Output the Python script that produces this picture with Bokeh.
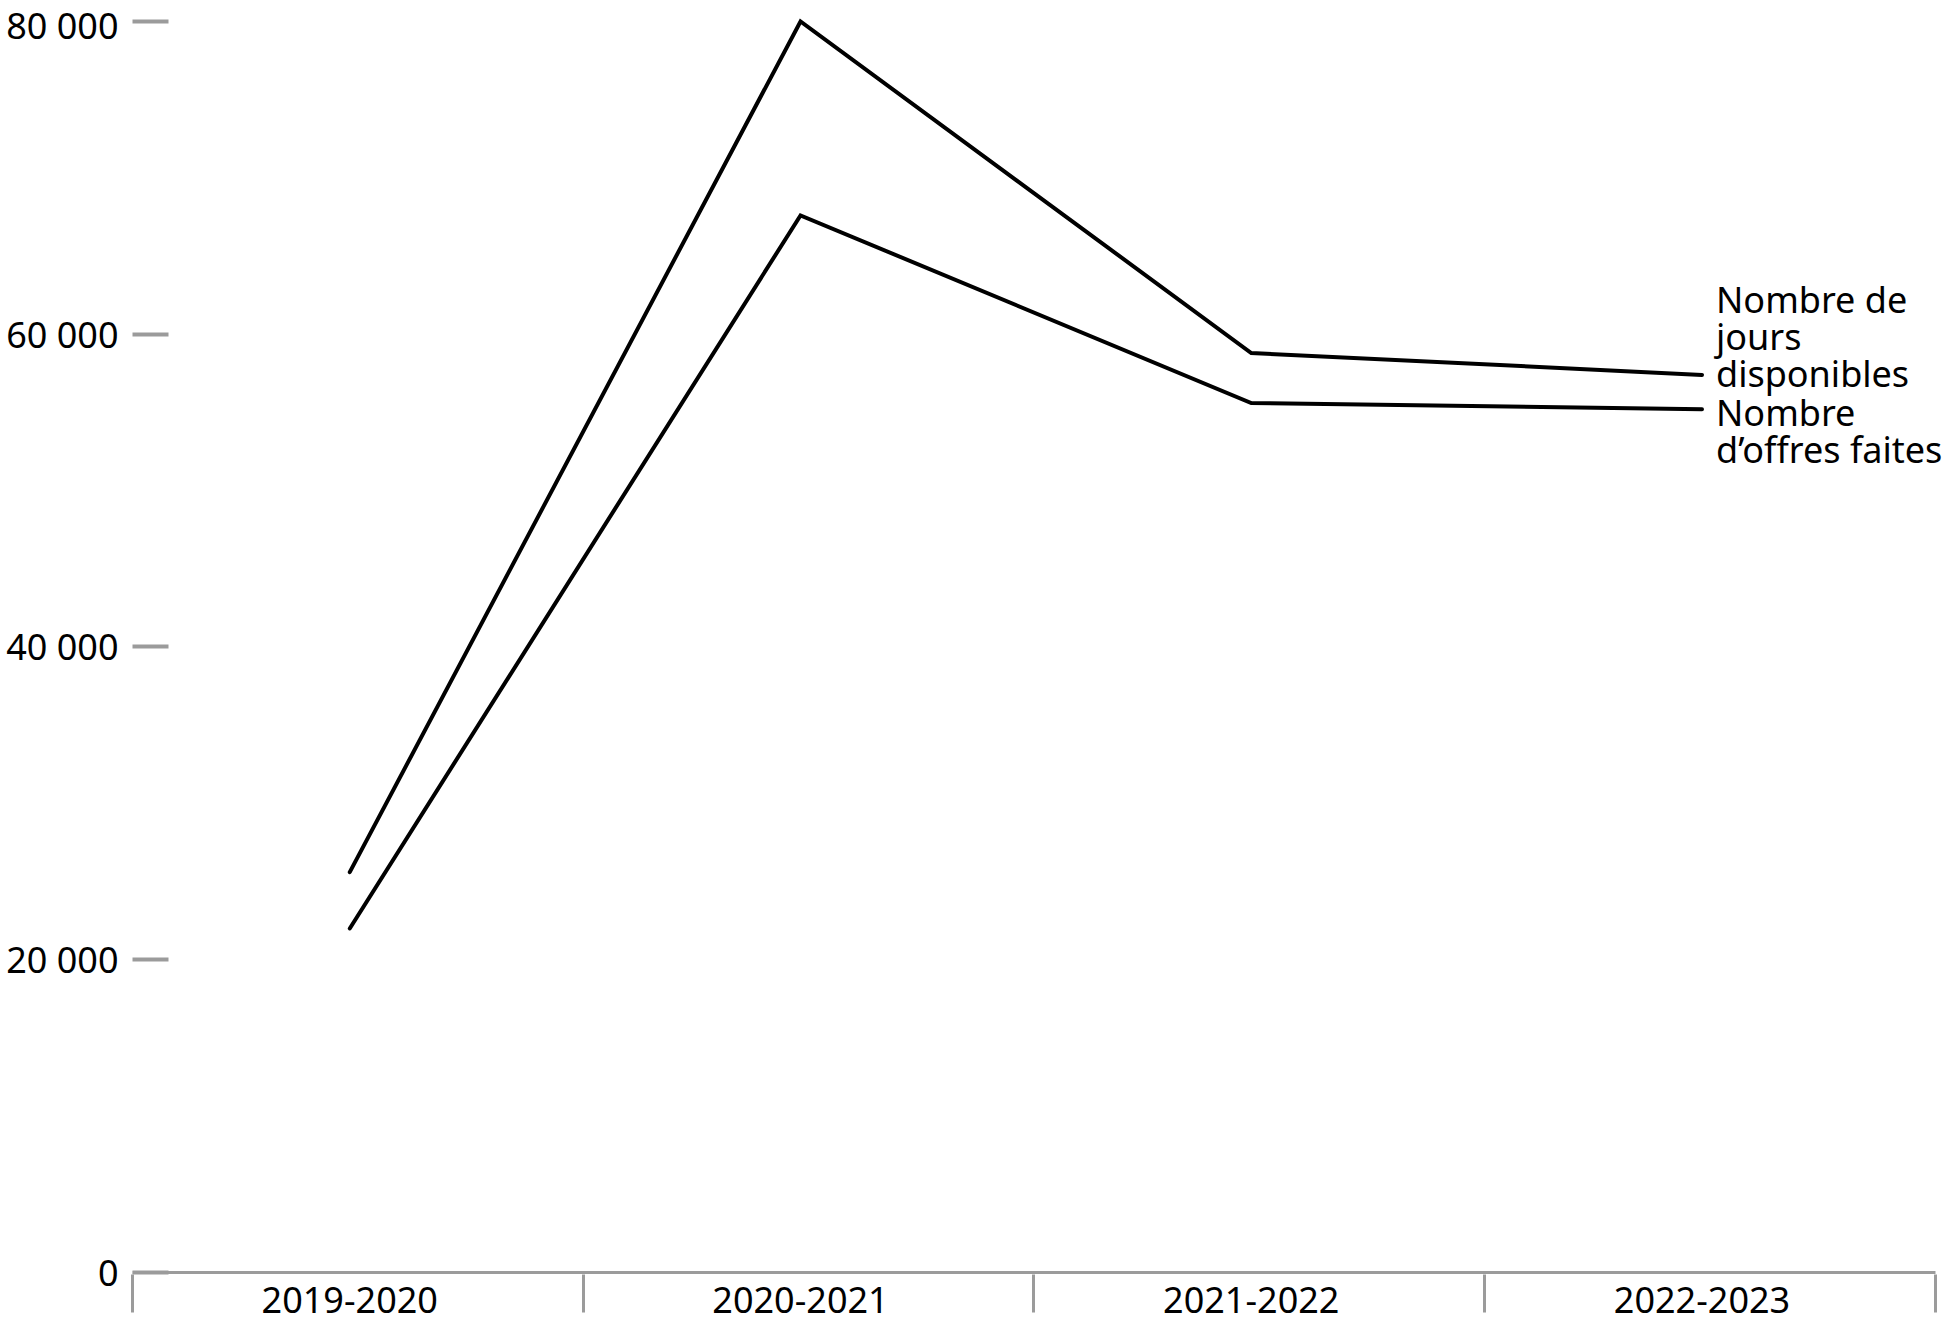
from bokeh.plotting import figure
from bokeh.models import Range1d, FixedTicker, Label
from bokeh.embed import file_html
from bokeh.resources import INLINE

# ---- data ----
categories = ["2019-2020", "2020-2021", "2021-2022", "2022-2023"]
jours_disponibles = [25600, 80000, 58800, 57400]
offres_faites = [22000, 67600, 55600, 55200]
series_names = [["Nombre de", "jours", "disponibles"], ["Nombre", "d\u2019offres faites"]]
y_ticks = [0, 20000, 40000, 60000, 80000]
y_tick_labels = ["0", "20 000", "40 000", "60 000", "80 000"]

# ---- layout constants ----
FONT = "Noto Sans"
GRAY = "#9b9b9b"
BOUNDARY_SHIFT = 0.518  # category boundaries sit slightly right of mid-points
RIGHT_PAD = 0.0333      # room for the end labels beyond the last boundary
x_idx = list(range(len(categories)))
bounds = [i - 1 + BOUNDARY_SHIFT for i in range(len(categories) + 1)]

p = figure(
    width=1950, height=1323,
    output_backend="svg", toolbar_location=None, title=None,
    x_range=Range1d(bounds[0], bounds[-1] + RIGHT_PAD),
    y_range=Range1d(-128, 80830),
    min_border_top=8, min_border_right=0, min_border_left=132, min_border_bottom=49,
)
p.outline_line_color = None
p.background_fill_color = "white"
p.border_fill_color = "white"
p.xgrid.visible = False
p.ygrid.visible = False

# y axis
ya = p.yaxis[0]
ya.ticker = FixedTicker(ticks=y_ticks, minor_ticks=[])
ya.major_label_overrides = {t: l for t, l in zip(y_ticks, y_tick_labels)}
ya.axis_line_color = None
ya.major_tick_in = 36
ya.major_tick_out = 0
ya.major_tick_line_color = GRAY
ya.major_tick_line_width = 4
ya.minor_tick_line_color = None
ya.major_label_standoff = 14
ya.major_label_text_font = FONT
ya.major_label_text_font_size = "36px"
ya.major_label_text_color = "black"
ya.major_label_text_font_style = "normal"

# x axis (line drawn as a baseline segment so it stops at the last boundary)
xa = p.xaxis[0]
xa.ticker = FixedTicker(ticks=x_idx, minor_ticks=bounds)
xa.major_label_overrides = {i: c for i, c in zip(x_idx, categories)}
xa.axis_line_color = None
xa.major_tick_in = 0
xa.major_tick_out = 0
xa.minor_tick_in = 0
xa.minor_tick_out = 38
xa.minor_tick_line_color = GRAY
xa.minor_tick_line_width = 3
xa.major_label_standoff = -26
xa.major_label_text_font = FONT
xa.major_label_text_font_size = "36px"
xa.major_label_text_color = "black"
xa.major_label_text_font_style = "normal"

p.segment(x0=[bounds[0]], y0=[0], x1=[bounds[-1]], y1=[0], line_color=GRAY, line_width=3)

# lines
for ys in (jours_disponibles, offres_faites):
    p.line(x_idx, ys, line_color="black", line_width=4, line_join="miter", line_cap="round")

# end labels
line_gap = 37
baseline_shift = [1, -3]
for si, (ys, names, shift) in enumerate(zip((jours_disponibles, offres_faites), series_names, baseline_shift)):
    n = len(names)
    # series 1: last line aligned to endpoint; series 2: first line aligned to endpoint
    anchor_line = n - 1 if si == 0 else 0
    for k, txt in enumerate(names):
        off = shift + (anchor_line - k) * line_gap
        p.add_layout(Label(
            x=x_idx[-1], y=ys[-1], x_offset=14, y_offset=off, text=txt,
            text_font=FONT, text_font_size="36px", text_color="black",
            text_align="left", text_baseline="alphabetic",
        ))

open("out.html", "w").write(file_html(p, INLINE))
